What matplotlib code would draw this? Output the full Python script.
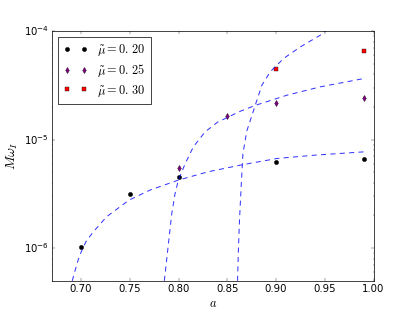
import numpy as np
import matplotlib
matplotlib.use('Agg')
import matplotlib.pyplot as plt

plt.style.use('classic')

# data points
a_020 = [0.70, 0.75, 0.80, 0.90, 0.99]
w_020 = [1.02e-6, 3.15e-6, 4.5e-6, 6.2e-6, 6.6e-6]

a_025 = [0.80, 0.85, 0.90, 0.99]
w_025 = [5.46e-6, 1.66e-5, 2.19e-5, 2.44e-5]

a_030 = [0.90, 0.99]
w_030 = [4.5e-5, 6.5e-5]

# dashed fit curves
fit1_a = [0.6909, 0.694, 0.697, 0.70, 0.705, 0.7124, 0.7262, 0.7491, 0.7707, 0.7998, 0.83, 0.8632, 0.901, 0.94, 0.99]
fit1_w = [5.0e-7, 6.3e-7, 7.8e-7, 9.2e-7, 1.15e-6, 1.41e-6, 1.95e-6, 2.77e-6, 3.43e-6, 4.24e-6, 5.05e-6, 5.82e-6, 6.71e-6, 7.2e-6, 7.72e-6]

fit2_a = [0.7854, 0.7896, 0.793, 0.7964, 0.7998, 0.8069, 0.8152, 0.8272, 0.84, 0.85, 0.8615, 0.8786, 0.9112, 0.9455, 0.99]
fit2_w = [5.0e-7, 1.10e-6, 2.08e-6, 3.19e-6, 4.24e-6, 6.04e-6, 8.6e-6, 1.18e-5, 1.45e-5, 1.6e-5, 1.8e-5, 2.07e-5, 2.57e-5, 3.07e-5, 3.66e-5]

fit3_a = [0.8605, 0.8615, 0.8625, 0.8642, 0.866, 0.870, 0.8786, 0.8855, 0.894, 0.9077, 0.9249, 0.9455, 0.9506]
fit3_w = [5.0e-7, 1.03e-6, 1.81e-6, 3.67e-6, 7.4e-6, 1.2e-5, 2.07e-5, 3.18e-5, 4.22e-5, 5.6e-5, 7.16e-5, 9.2e-5, 1.0e-4]

labels = [r'$\tilde{\mu}=0.\,20$', r'$\tilde{\mu}=0.\,25$', r'$\tilde{\mu}=0.\,30$']

fig = plt.figure(figsize=(415 / 52.0, 6), dpi=52)
ax = fig.add_subplot(111)

ax.plot(a_020, w_020, 'o', color='k', markersize=6, label=labels[0])
ax.plot(a_025, w_025, 'd', color='purple', markersize=6, label=labels[1])
ax.plot(a_030, w_030, 's', color='r', markersize=6, label=labels[2])

for fa, fw in [(fit1_a, fit1_w), (fit2_a, fit2_w), (fit3_a, fit3_w)]:
    ax.plot(fa, fw, '--', color='b', alpha=0.8, linewidth=1.4, dashes=(7, 6))

ax.set_yscale('log')
ax.set_xlim(0.67, 1.0)
ax.set_ylim(5e-7, 1e-4)
ax.set_xticks([0.70, 0.75, 0.80, 0.85, 0.90, 0.95, 1.00])
ax.tick_params(labelsize=14)
ax.set_xlabel(r'$a$', fontsize=17)
ax.set_ylabel(r'$M\omega_I$', fontsize=19)
ax.legend(loc='upper left', numpoints=2, fontsize=17, labelspacing=0.3)

fig.savefig('out.png', dpi=52)
